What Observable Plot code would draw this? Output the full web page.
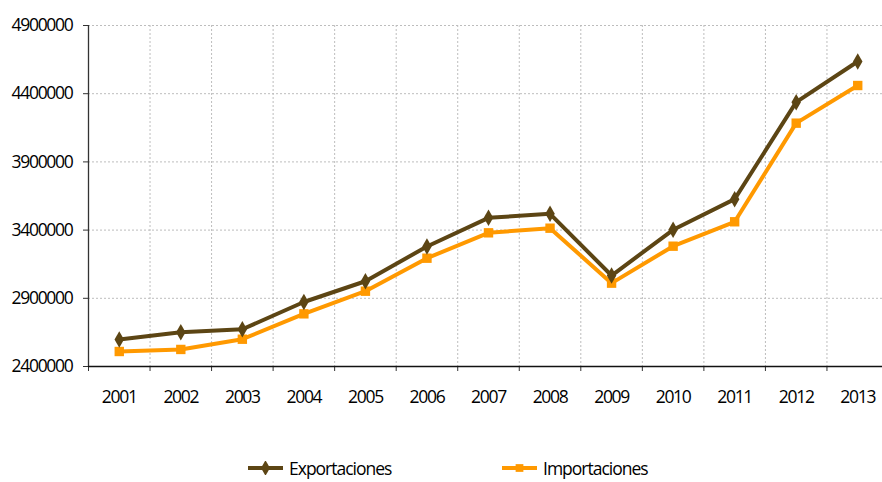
<!DOCTYPE html>
<html>
<head>
<meta charset="utf-8">
<script src="https://cdn.jsdelivr.net/npm/d3@7"></script>
<script src="https://cdn.jsdelivr.net/npm/@observablehq/plot@0.6"></script>
<style>
  body { margin: 0; background: #fff; }
  #chart { position: relative; width: 882px; height: 482px; overflow: hidden; font-family: "Open Sans", sans-serif; }
  #legend { position: absolute; left: 0; top: 0; width: 882px; height: 482px; pointer-events: none; }
  .item { position: absolute; top: 457px; display: flex; align-items: center; font-size: 17.5px; line-height: 22px; letter-spacing: -1px; color: #000; }
  .item svg { margin-right: 6px; }
</style>
</head>
<body>
<div id="chart"></div>
<script>
const years = [2001, 2002, 2003, 2004, 2005, 2006, 2007, 2008, 2009, 2010, 2011, 2012, 2013];
const exportaciones = [2598000, 2651000, 2673000, 2873000, 3025000, 3280000, 3490000, 3519000, 3067000, 3402000, 3627000, 4338000, 4636000];
const importaciones = [2510000, 2525000, 2600000, 2786000, 2952000, 3194000, 3380000, 3414000, 3011000, 3282000, 3461000, 4184000, 4460000];
const yTicks = [2400000, 2900000, 3400000, 3900000, 4400000, 4900000];
const seriesNames = ["Exportaciones", "Importaciones"];
const colors = ["#5c4514", "#ff9900"];

const boundaries = years.map(y => y + 0.5);
const exp = years.map((y, i) => ({year: y, value: exportaciones[i]}));
const imp = years.map((y, i) => ({year: y, value: importaciones[i]}));

const plot = Plot.plot({
  width: 882,
  height: 420,
  marginLeft: 88,
  marginRight: 0,
  marginTop: 25,
  marginBottom: 54,
  style: {fontFamily: "Open Sans, sans-serif", fontSize: "17.5px", letterSpacing: "-1.3px", color: "#000", background: "#fff", overflow: "visible"},
  x: {type: "linear", domain: [years[0] - 0.5, years[years.length - 1] + 0.5], range: [88, 888]},
  y: {domain: [yTicks[0], yTicks[yTicks.length - 1]]},
  marks: [
    Plot.ruleY(yTicks.slice(1), {stroke: "#bdbdbd", strokeWidth: 1, strokeDasharray: "2,2"}),
    Plot.ruleX(boundaries, {stroke: "#bdbdbd", strokeWidth: 1, strokeDasharray: "2,2"}),
    Plot.axisY(yTicks, {tickSize: 5, tickPadding: 11, tickFormat: d => String(d), stroke: "#333", label: null}),
    Plot.axisX([years[0] - 0.5, ...boundaries], {tickSize: 5, tickFormat: () => "", stroke: "#333", label: null}),
    Plot.axisX(years, {tickSize: 0, tickPadding: 24, tickFormat: d => String(d), label: null}),
    Plot.ruleX([years[0] - 0.5], {stroke: "#333", strokeWidth: 1.3}),
    Plot.ruleY([yTicks[0]], {stroke: "#111", strokeWidth: 1.5}),
    Plot.line(imp, {x: "year", y: "value", stroke: colors[1], strokeWidth: 4}),
    Plot.dot(imp, {x: "year", y: "value", symbol: "square", r: 5.3, fill: colors[1], stroke: "none"}),
    Plot.line(exp, {x: "year", y: "value", stroke: colors[0], strokeWidth: 4}),
    Plot.dot(exp, {x: "year", y: "value", symbol: "diamond", r: 5, fill: colors[0], stroke: "none"})
  ]
});
const chart = document.getElementById("chart");
chart.appendChild(plot);

const legend = document.createElement("div");
legend.id = "legend";
const lefts = [248, 502];
const symbols = [d3.symbolDiamond, d3.symbolSquare];
seriesNames.forEach((name, i) => {
  const item = document.createElement("div");
  item.className = "item";
  item.style.left = lefts[i] + "px";
  const sw = d3.create("svg").attr("width", 35).attr("height", 14);
  sw.append("line").attr("x1", 0).attr("x2", 35).attr("y1", 7).attr("y2", 7).attr("stroke", colors[i]).attr("stroke-width", 4);
  sw.append("path").attr("d", d3.symbol(symbols[i], i === 0 ? 70 : 60)()).attr("transform", "translate(17.5,7)").attr("fill", colors[i]);
  item.appendChild(sw.node());
  const t = document.createElement("span");
  t.textContent = name;
  item.appendChild(t);
  legend.appendChild(item);
});
chart.appendChild(legend);
</script>
</body>
</html>
